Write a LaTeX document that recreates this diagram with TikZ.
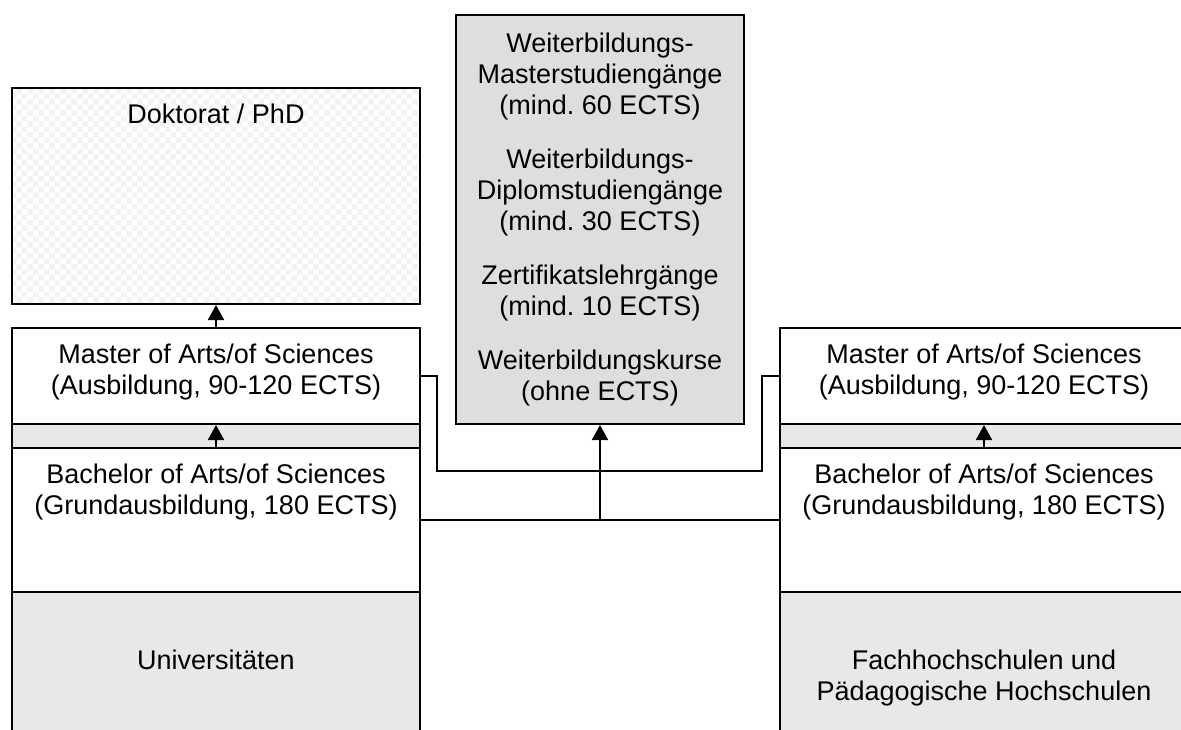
\documentclass[tikz,border=0pt]{standalone}
\usepackage{fontspec}
\setmainfont{Liberation Sans}
\usetikzlibrary{arrows.meta,patterns,positioning}
\definecolor{wbgray}{gray}{0.87}
\definecolor{lightband}{gray}{0.91}
\frenchspacing

\begin{document}
\begin{tikzpicture}[x=1pt,y=-1pt,
  every node/.style={font=\fontsize{27}{31}\selectfont,align=center},
  box/.style={draw,line width=2pt,inner sep=0pt,anchor=north west,minimum width=408pt},
  band/.style={box,fill=lightband,minimum height=24pt},
  link/.style={line width=1.7pt},
  up/.style={-{Triangle[length=15pt,width=16pt]},line width=2pt}]
  \clip (0,0) rectangle (1181,729);
  % left column
  \node[box,minimum height=216pt,pattern=checkerboard,pattern color=black!5] (phd) at (11,87) {};
  \node[box,minimum height=96pt] (mastl) at (11,327) {};
  \node[band] (bandl) at (11,423) {};
  \node[box,minimum height=144pt] (bachl) at (11,447) {};
  \node[box,minimum height=150pt,fill=lightband] (unil) at (11,591) {};
  \node[below=13pt of phd.north] (phdtxt) {Doktorat / PhD};
  \node[below=13pt of mastl.north] (mastltxt) {Master of Arts/of Sciences\\(Ausbildung, 90-120 ECTS)};
  \node[below=13pt of bachl.north] (bachltxt) {Bachelor of Arts/of Sciences\\(Grundausbildung, 180 ECTS)};
  \node[below=55pt of unil.north] (uniltxt) {Universitäten};
  % right column
  \node[box,minimum height=96pt] (mastr) at (779,327) {};
  \node[band] (bandr) at (779,423) {};
  \node[box,minimum height=144pt] (bachr) at (779,447) {};
  \node[box,minimum height=150pt,fill=lightband] (fhr) at (779,591) {};
  \node[below=13pt of mastr.north] (mastrtxt) {Master of Arts/of Sciences\\(Ausbildung, 90-120 ECTS)};
  \node[below=13pt of bachr.north] (bachrtxt) {Bachelor of Arts/of Sciences\\(Grundausbildung, 180 ECTS)};
  \node[below=55pt of fhr.north] (fhrtxt) {Fachhochschulen und\\Pädagogische Hochschulen};
  % continuing education
  \node[box,minimum width=288pt,minimum height=409pt,fill=wbgray] (wb) at (455,14) {};
  \node[below=15pt of wb.north] (wbtxt) {Weiterbildungs-\\Masterstudiengänge\\(mind. 60 ECTS)\\[23pt]%
    Weiterbildungs-\\Diplomstudiengänge\\(mind. 30 ECTS)\\[23pt]%
    Zertifikatslehrgänge\\(mind. 10 ECTS)\\[23pt]%
    Weiterbildungskurse\\(ohne ECTS)};
  % connectors
  \coordinate (jl) at (437,471);
  \coordinate (jr) at (762,471);
  \coordinate (fork) at (wb.south |- bachl.east);
  \draw[link] (mastl.east) -| (jl) -- (jr) |- (mastr.west);
  \draw[link] (bachl.east) -- (bachr.west);
  \draw[up] (fork) -- (wb.south);
  \draw[up] (mastl.north) -- (phd.south);
  \draw[up] (bandl.south) -- (mastl.south);
  \draw[up] (bandr.south) -- (mastr.south);
\end{tikzpicture}
\end{document}
